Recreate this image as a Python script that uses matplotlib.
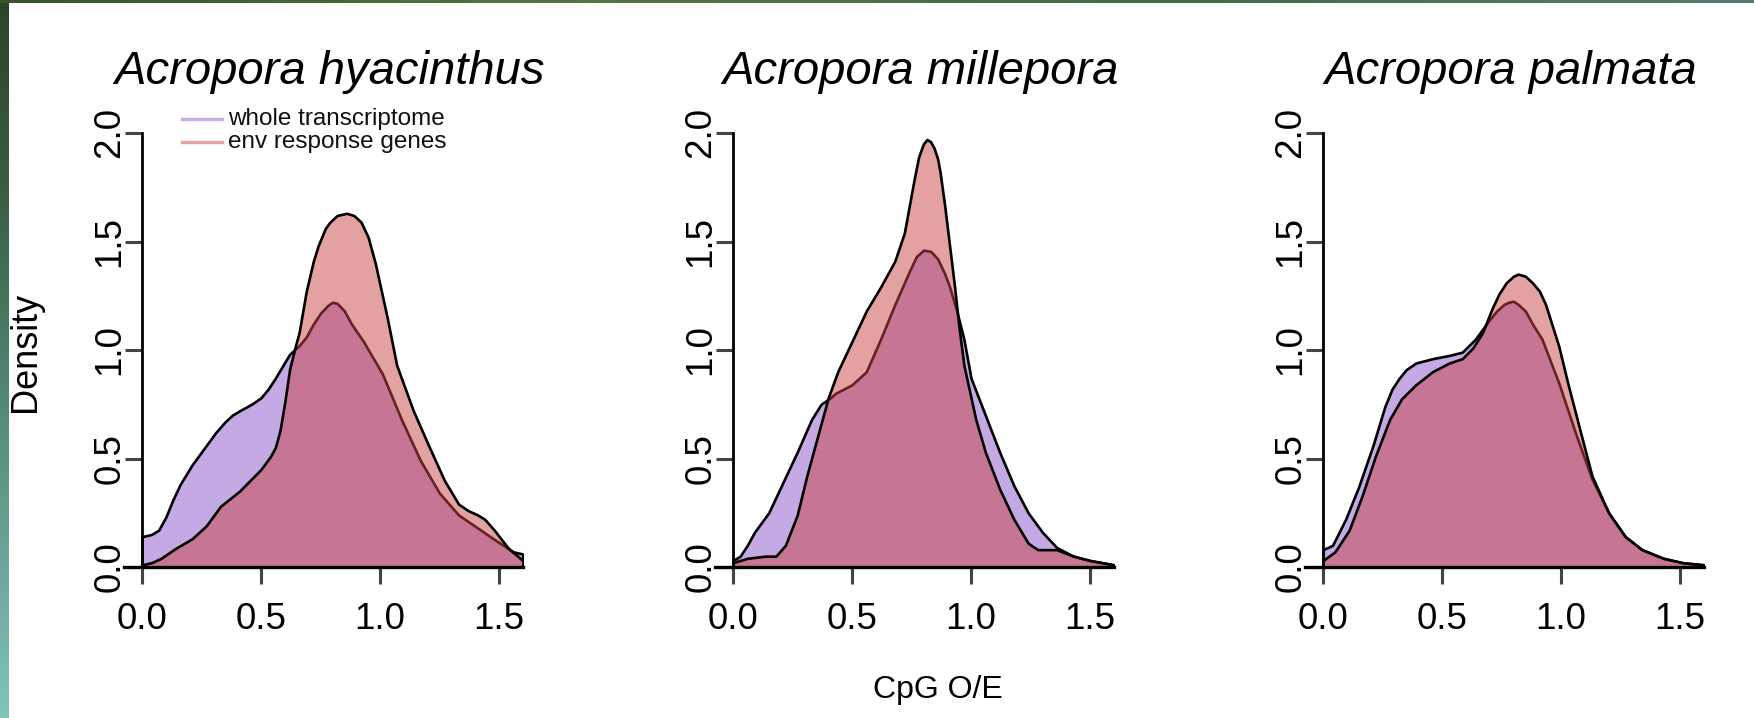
import numpy as np
import matplotlib
matplotlib.use("Agg")
import matplotlib.pyplot as plt
from matplotlib.lines import Line2D

plt.rcParams['font.family'] = ['Liberation Sans', 'DejaVu Sans']

W, H, DPI = 1754, 718, 100

species = ["Acropora hyacinthus", "Acropora millepora", "Acropora palmata"]
series_labels = ["whole transcriptome", "env response genes"]
x_ticks = [0.0, 0.5, 1.0, 1.5]
y_ticks = [0.0, 0.5, 1.0, 1.5, 2.0]

# Density of CpG O/E -- A. hyacinthus
hya_whole_x = [0, 0.04, 0.07, 0.10, 0.13, 0.16, 0.21, 0.27, 0.31, 0.35, 0.38, 0.41, 0.46, 0.50,
               0.53, 0.56, 0.62, 0.66, 0.69, 0.72, 0.75, 0.78, 0.80, 0.82, 0.85, 0.88, 0.93,
               1.01, 1.09, 1.17, 1.25, 1.33, 1.41, 1.49, 1.56, 1.60]
hya_whole_y = [0.14, 0.15, 0.17, 0.23, 0.31, 0.38, 0.47, 0.56, 0.62, 0.67, 0.70, 0.72, 0.75, 0.78,
               0.82, 0.87, 0.98, 1.02, 1.06, 1.12, 1.17, 1.205, 1.22, 1.215, 1.18, 1.12, 1.04,
               0.89, 0.68, 0.49, 0.34, 0.24, 0.18, 0.12, 0.07, 0.06]
hya_env_x = [0, 0.04, 0.08, 0.14, 0.21, 0.27, 0.33, 0.41, 0.50, 0.54, 0.56, 0.58, 0.60, 0.62,
             0.64, 0.66, 0.69, 0.72, 0.74, 0.77, 0.79, 0.82, 0.86, 0.89, 0.92, 0.95, 0.98,
             1.00, 1.03, 1.07, 1.14, 1.20, 1.27, 1.33, 1.37, 1.41, 1.44, 1.48, 1.54, 1.60]
hya_env_y = [0.01, 0.02, 0.04, 0.085, 0.13, 0.19, 0.28, 0.35, 0.45, 0.51, 0.55, 0.63, 0.76, 0.91,
             1.00, 1.08, 1.27, 1.41, 1.48, 1.56, 1.59, 1.62, 1.63, 1.62, 1.59, 1.52, 1.40,
             1.30, 1.15, 0.93, 0.72, 0.57, 0.40, 0.29, 0.26, 0.24, 0.22, 0.17, 0.085, 0.03]

# Density of CpG O/E -- A. millepora
mil_whole_x = [0, 0.03, 0.06, 0.09, 0.15, 0.21, 0.27, 0.33, 0.37, 0.41, 0.43, 0.50, 0.56, 0.62,
               0.68, 0.74, 0.77, 0.80, 0.83, 0.86, 0.89, 0.91, 0.94, 0.97, 1.00, 1.06, 1.12,
               1.18, 1.24, 1.30, 1.36, 1.43, 1.50, 1.60]
mil_whole_y = [0.03, 0.05, 0.10, 0.16, 0.25, 0.39, 0.53, 0.68, 0.75, 0.78, 0.80, 0.84, 0.90, 1.05,
               1.21, 1.36, 1.43, 1.46, 1.455, 1.42, 1.35, 1.29, 1.18, 1.05, 0.87, 0.70, 0.53,
               0.375, 0.25, 0.16, 0.09, 0.05, 0.03, 0.01]
mil_env_x = [0, 0.06, 0.135, 0.18, 0.22, 0.27, 0.31, 0.36, 0.40, 0.44, 0.50, 0.56, 0.62, 0.68,
             0.72, 0.74, 0.76, 0.78, 0.80, 0.815, 0.83, 0.845, 0.86, 0.87, 0.89, 0.91, 0.93,
             0.95, 0.97, 1.02, 1.06, 1.12, 1.18, 1.24, 1.28, 1.36, 1.43, 1.50, 1.60]
mil_env_y = [0.02, 0.04, 0.05, 0.05, 0.10, 0.24, 0.42, 0.62, 0.78, 0.90, 1.04, 1.18, 1.29, 1.41,
             1.54, 1.66, 1.78, 1.89, 1.95, 1.97, 1.96, 1.93, 1.88, 1.82, 1.66, 1.48, 1.30,
             1.10, 0.93, 0.68, 0.53, 0.36, 0.22, 0.11, 0.08, 0.08, 0.05, 0.03, 0.01]

# Density of CpG O/E -- A. palmata
pal_whole_x = [0, 0.04, 0.095, 0.15, 0.21, 0.26, 0.29, 0.32, 0.35, 0.39, 0.46, 0.53, 0.585, 0.64,
               0.70, 0.73, 0.76, 0.78, 0.80, 0.82, 0.85, 0.88, 0.92, 0.99, 1.06, 1.13, 1.20,
               1.27, 1.34, 1.43, 1.51, 1.60]
pal_whole_y = [0.08, 0.10, 0.22, 0.37, 0.56, 0.74, 0.82, 0.87, 0.91, 0.94, 0.96, 0.975, 0.99, 1.05,
               1.14, 1.18, 1.21, 1.22, 1.225, 1.21, 1.18, 1.12, 1.05, 0.85, 0.62, 0.405, 0.25,
               0.14, 0.08, 0.04, 0.02, 0.01]
pal_env_x = [0, 0.05, 0.11, 0.165, 0.22, 0.28, 0.33, 0.39, 0.46, 0.53, 0.585, 0.63, 0.67, 0.71,
             0.74, 0.77, 0.80, 0.82, 0.85, 0.88, 0.91, 0.935, 0.99, 1.03, 1.075, 1.13, 1.20,
             1.27, 1.34, 1.43, 1.51, 1.60]
pal_env_y = [0.03, 0.07, 0.17, 0.33, 0.51, 0.68, 0.775, 0.84, 0.90, 0.94, 0.96, 1.01, 1.08, 1.19,
             1.26, 1.31, 1.34, 1.35, 1.34, 1.31, 1.27, 1.21, 1.02, 0.84, 0.65, 0.42, 0.25,
             0.14, 0.08, 0.04, 0.02, 0.01]

panels = [
    (hya_whole_x, hya_whole_y, hya_env_x, hya_env_y),
    (mil_whole_x, mil_whole_y, mil_env_x, mil_env_y),
    (pal_whole_x, pal_whole_y, pal_env_x, pal_env_y),
]

whole_fill = (139 / 255, 85 / 255, 205 / 255, 0.5)
env_fill = (201 / 255, 69 / 255, 69 / 255, 0.5)
whole_key = (0.78, 0.68, 0.91)
env_key = (0.89, 0.63, 0.63)

fig = plt.figure(figsize=(W / DPI, H / DPI), dpi=DPI)
fig.patch.set_facecolor("white")


def fx(px):
    return px / W


def fy(py):
    return 1 - py / H


# slide backdrop showing along the left and top edges
bg = fig.add_axes([0, 0, 1, 1], zorder=-5)
bg.set_axis_off()
bg.set_xlim(0, W)
bg.set_ylim(H, 0)
grad = np.linspace(0, 1, 256)
strip_cols = np.array([[0.17, 0.27, 0.16], [0.22, 0.36, 0.26], [0.30, 0.50, 0.42],
                       [0.40, 0.64, 0.58], [0.52, 0.76, 0.72]])
stops = np.linspace(0, 1, len(strip_cols))
rgb = np.stack([np.interp(grad, stops, strip_cols[:, c]) for c in range(3)], axis=1)
bg.imshow(rgb[:, None, :], extent=[0, 9, H, 0], aspect="auto", interpolation="bilinear")
top = np.array([[0.22, 0.33, 0.18], [0.35, 0.45, 0.25], [0.25, 0.42, 0.30], [0.30, 0.50, 0.40]])
hstops = np.linspace(0, 1, len(top))
hrgb = np.stack([np.interp(grad, hstops, top[:, c]) for c in range(3)], axis=1)
bg.imshow(hrgb[None, :, :], extent=[0, W, 3, 0], aspect="auto", interpolation="bilinear")

axis_zero_px = [142, 733, 1323]
unit_x = 238.0        # pixels per CpG O/E unit
unit_y = 217.0        # pixels per density unit
x_lo, x_hi = -0.076, 1.6
base_px = 567

tick_len = 12.2
for i, (wx, wy, ex, ey) in enumerate(panels):
    left_px = axis_zero_px[i] + x_lo * unit_x
    width_px = (x_hi - x_lo) * unit_x
    height_px = 2.0 * unit_y
    ax = fig.add_axes([fx(left_px), fy(base_px), fx(width_px), height_px / H])
    ax.set_xlim(x_lo, x_hi)
    ax.set_ylim(0, 2.0)
    ax.patch.set_alpha(0)

    ax.fill_between(wx, wy, 0, facecolor=whole_fill, edgecolor="black", linewidth=1.9,
                    joinstyle="round", zorder=2)
    ax.fill_between(ex, ey, 0, facecolor=env_fill, edgecolor="black", linewidth=1.9,
                    joinstyle="round", zorder=3)

    for s in ["top", "right"]:
        ax.spines[s].set_visible(False)
    ax.spines["left"].set_position(("data", 0))
    ax.spines["left"].set_bounds(0, 2.0)
    ax.spines["left"].set_linewidth(2.0)
    ax.spines["bottom"].set_linewidth(2.4)
    ax.spines["left"].set_zorder(4)
    ax.spines["bottom"].set_zorder(4)

    ax.set_xticks(x_ticks)
    ax.set_xticklabels([f"{t:.1f}" for t in x_ticks])
    ax.set_yticks(y_ticks)
    ax.set_yticklabels([f"{t:.1f}" for t in y_ticks])
    ax.tick_params(axis="both", direction="out", length=tick_len, width=2.2,
                   color="#444444", labelsize=26.5, labelcolor="black")
    ax.tick_params(axis="x", pad=13)
    ax.tick_params(axis="y", pad=11)
    for lab in ax.get_yticklabels():
        lab.set_rotation(90)
        lab.set_ha("center")
        lab.set_va("center")

    centre_px = left_px + width_px / 2 + 6
    fig.text(fx(centre_px), fy(84), species[i], ha="center", va="baseline",
             fontsize=34, style="italic", color="black")

# key in the first panel
for row, (lab, col) in enumerate(zip(series_labels, [whole_key, env_key])):
    ypx = 119 + 23 * row
    fig.add_artist(Line2D([fx(182), fx(222)], [fy(ypx), fy(ypx)], color=col, linewidth=2.4,
                          transform=fig.transFigure))
    fig.text(fx(228), fy(ypx), lab, ha="left", va="center", fontsize=17.5, color="#111111")

fig.text(fx(25), fy(352), "Density", rotation=90, ha="center", va="center", fontsize=26)
fig.text(fx(938), fy(690), "CpG O/E", ha="center", va="center", fontsize=23)

fig.savefig("out.png", dpi=DPI, facecolor="white")
